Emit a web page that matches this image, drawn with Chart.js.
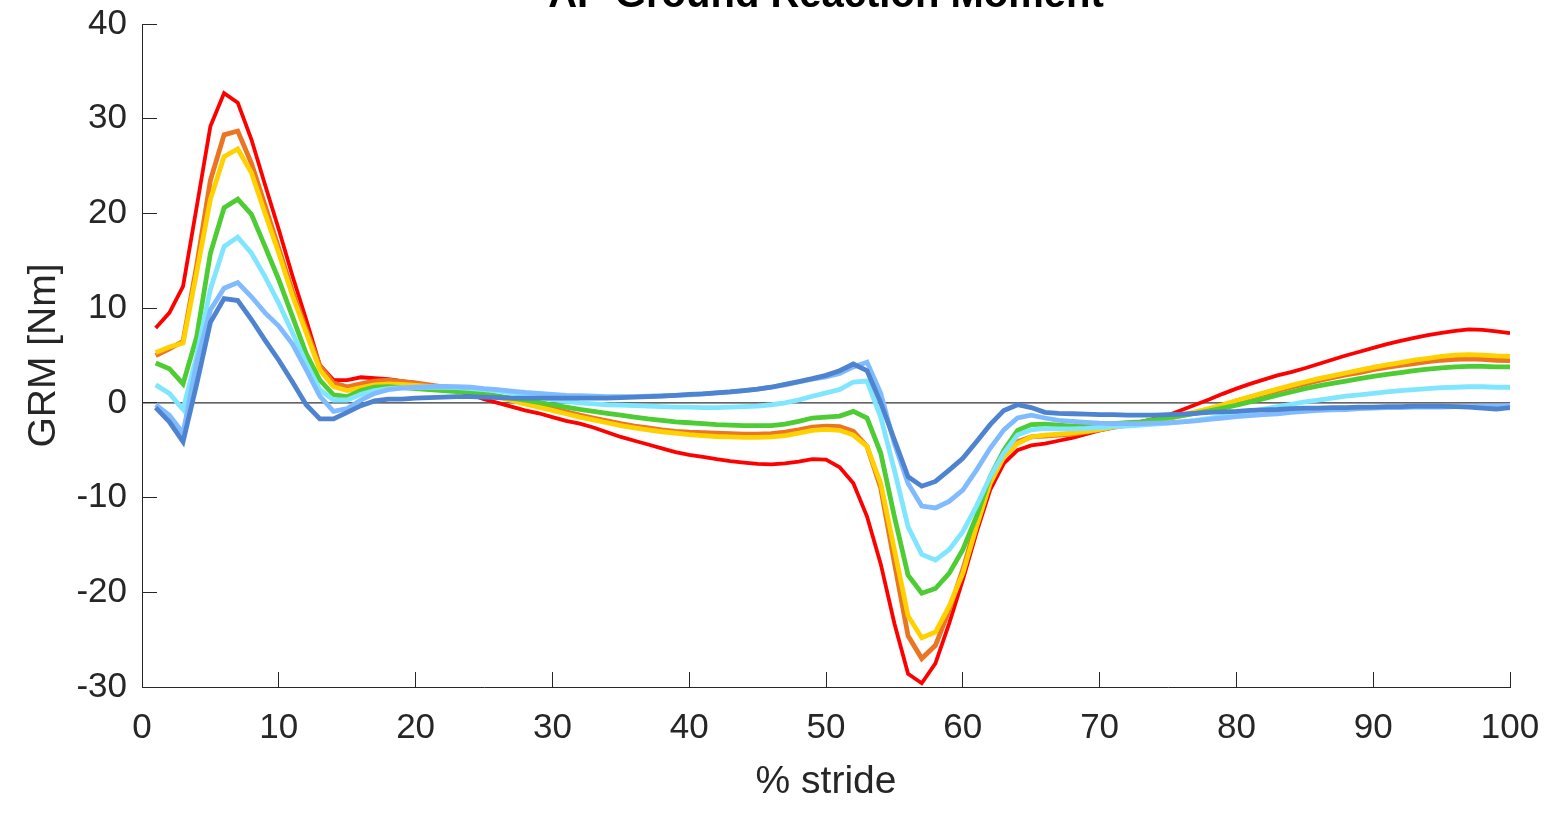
<!DOCTYPE html>
<html>
<head>
<meta charset="utf-8">
<title>AP Ground Reaction Moment</title>
<script src="https://cdn.jsdelivr.net/npm/chart.js@4.4.1/dist/chart.umd.min.js"></script>
<style>
  body { margin: 0; background: #fff; overflow: hidden; }
  #wrap { position: absolute; left: 0; top: -40px; width: 1553px; height: 854px; }
</style>
</head>
<body>
<div id="wrap"><canvas id="myChart"></canvas></div>
<script>
// % stride (x positions of every sample)
const stride = [1,2,3,4,5,6,7,8,9,10,11,12,13,14,15,16,17,18,19,20,
  21,22,23,24,25,26,27,28,29,30,31,32,33,34,35,36,37,38,39,40,
  41,42,43,44,45,46,47,48,49,50,51,52,53,54,55,56,57,58,59,60,
  61,62,63,64,65,66,67,68,69,70,71,72,73,74,75,76,77,78,79,80,
  81,82,83,84,85,86,87,88,89,90,91,92,93,94,95,96,97,98,99,100];

// GRM [Nm], one array per condition
const redVals = [7.9,9.5,12.3,20.7,29.2,32.7,31.7,27.8,23.0,18.3,
  13.4,8.8,4.0,2.4,2.4,2.7,2.6,2.5,2.3,2.1,
  1.8,1.6,1.3,0.9,0.4,0.0,-0.4,-0.8,-1.1,-1.5,
  -1.9,-2.2,-2.6,-3.1,-3.6,-4.0,-4.4,-4.8,-5.2,-5.5,
  -5.7,-5.95,-6.15,-6.3,-6.45,-6.5,-6.4,-6.2,-5.95,-6.0,
  -6.8,-8.5,-12.0,-17.0,-23.3,-28.6,-29.6,-27.5,-23.3,-18.7,
  -13.7,-9.2,-6.4,-5.0,-4.5,-4.3,-4.0,-3.7,-3.3,-2.9,
  -2.6,-2.3,-2.0,-1.7,-1.3,-0.75,-0.2,0.35,0.95,1.5,
  2.0,2.45,2.9,3.25,3.65,4.1,4.55,5.0,5.4,5.8,
  6.2,6.55,6.85,7.15,7.4,7.6,7.75,7.7,7.55,7.35];

const orangeVals = [5.0,5.7,6.5,14.5,23.5,28.3,28.7,25.3,20.8,16.3,
  11.8,7.8,3.9,2.1,1.7,2.0,2.3,2.4,2.25,2.1,
  1.9,1.7,1.55,1.3,1.0,0.7,0.4,0.1,-0.2,-0.6,
  -0.95,-1.3,-1.6,-1.9,-2.2,-2.45,-2.65,-2.85,-3.0,-3.1,
  -3.15,-3.2,-3.25,-3.3,-3.3,-3.25,-3.1,-2.85,-2.55,-2.45,
  -2.5,-3.0,-4.6,-9.0,-16.9,-24.6,-27.0,-25.6,-21.9,-17.6,
  -12.7,-8.1,-5.3,-4.1,-3.6,-3.5,-3.4,-3.3,-3.1,-2.85,
  -2.6,-2.35,-2.1,-1.9,-1.65,-1.35,-1.05,-0.7,-0.35,0.2,
  0.6,0.95,1.3,1.65,2.0,2.35,2.65,2.95,3.2,3.5,
  3.75,3.95,4.15,4.35,4.5,4.6,4.65,4.6,4.5,4.45];

const yellowVals = [5.3,5.9,6.3,13.8,21.5,26.0,26.8,24.3,20.0,15.8,
  11.3,7.4,3.5,1.7,1.3,1.6,1.9,2.0,1.95,1.85,
  1.75,1.6,1.45,1.2,0.9,0.6,0.25,-0.1,-0.45,-0.8,
  -1.15,-1.5,-1.8,-2.1,-2.4,-2.65,-2.85,-3.05,-3.2,-3.35,
  -3.45,-3.55,-3.6,-3.65,-3.65,-3.6,-3.45,-3.2,-2.9,-2.8,
  -2.9,-3.4,-4.6,-8.5,-15.5,-22.5,-24.8,-24.2,-21.5,-18.0,
  -13.1,-8.5,-5.7,-4.3,-3.6,-3.4,-3.3,-3.2,-3.0,-2.8,
  -2.55,-2.35,-2.1,-1.85,-1.6,-1.3,-0.95,-0.6,-0.2,0.25,
  0.65,1.05,1.45,1.85,2.2,2.55,2.85,3.15,3.45,3.75,
  4.0,4.25,4.5,4.7,4.9,5.05,5.1,5.05,4.95,4.9];

const greenVals = [4.2,3.6,2.0,7.0,15.8,20.6,21.5,19.9,16.5,13.0,
  9.1,5.2,2.4,0.85,0.65,1.3,1.65,1.7,1.6,1.5,
  1.4,1.3,1.2,1.1,0.9,0.7,0.5,0.3,0.05,-0.2,
  -0.45,-0.7,-0.9,-1.1,-1.3,-1.5,-1.7,-1.85,-2.0,-2.1,
  -2.2,-2.3,-2.35,-2.4,-2.4,-2.4,-2.25,-1.95,-1.6,-1.5,
  -1.4,-0.9,-1.6,-5.3,-12.0,-18.2,-20.1,-19.6,-18.0,-15.5,
  -12.0,-7.8,-5.0,-2.9,-2.3,-2.25,-2.35,-2.45,-2.4,-2.3,
  -2.2,-2.1,-2.0,-1.8,-1.55,-1.35,-1.1,-0.85,-0.55,-0.25,
  0.1,0.45,0.8,1.15,1.5,1.8,2.05,2.3,2.55,2.8,
  3.0,3.2,3.4,3.55,3.7,3.8,3.85,3.85,3.8,3.8];

const cyanVals = [1.9,1.0,-0.7,5.0,12.0,16.5,17.5,15.8,13.3,10.5,
  7.4,4.2,1.4,0.3,0.3,0.9,1.3,1.5,1.6,1.65,
  1.65,1.65,1.6,1.5,1.4,1.25,1.05,0.85,0.6,0.35,
  0.15,0.0,-0.1,-0.2,-0.25,-0.3,-0.35,-0.4,-0.45,-0.45,
  -0.5,-0.5,-0.45,-0.4,-0.35,-0.2,0.0,0.3,0.7,1.05,
  1.4,2.2,2.3,-1.5,-7.1,-13.1,-16.0,-16.6,-15.5,-13.6,
  -10.9,-7.8,-5.3,-3.4,-2.85,-2.7,-2.75,-2.75,-2.7,-2.6,
  -2.5,-2.45,-2.35,-2.25,-2.15,-2.0,-1.85,-1.65,-1.4,-1.15,
  -0.9,-0.65,-0.4,-0.15,0.1,0.3,0.5,0.7,0.85,1.0,
  1.15,1.3,1.4,1.5,1.6,1.65,1.7,1.7,1.65,1.65];

const lightBlueVals = [-0.2,-1.3,-3.2,4.3,9.8,12.1,12.7,11.2,9.5,8.1,
  6.2,3.5,0.7,-0.9,-0.6,0.3,1.0,1.4,1.55,1.65,
  1.7,1.75,1.7,1.65,1.5,1.4,1.25,1.1,1.0,0.9,
  0.8,0.75,0.7,0.65,0.65,0.65,0.7,0.75,0.8,0.85,
  0.95,1.05,1.15,1.3,1.45,1.65,1.9,2.2,2.5,2.75,
  3.1,3.8,4.3,1.0,-4.3,-8.5,-10.9,-11.1,-10.4,-9.2,
  -7.1,-4.8,-2.85,-1.6,-1.3,-1.6,-1.85,-1.95,-2.05,-2.15,
  -2.2,-2.2,-2.2,-2.15,-2.1,-2.0,-1.9,-1.75,-1.6,-1.45,
  -1.35,-1.25,-1.15,-1.0,-0.9,-0.8,-0.75,-0.7,-0.6,-0.55,
  -0.5,-0.5,-0.45,-0.45,-0.45,-0.4,-0.4,-0.35,-0.35,-0.3];

const blueVals = [-0.5,-2.0,-4.1,2.0,8.5,11.0,10.8,8.8,6.6,4.5,
  2.2,-0.2,-1.7,-1.7,-1.0,-0.3,0.2,0.4,0.4,0.5,
  0.55,0.6,0.65,0.65,0.6,0.55,0.5,0.5,0.5,0.5,
  0.5,0.5,0.5,0.5,0.55,0.6,0.65,0.7,0.8,0.9,
  0.95,1.05,1.15,1.3,1.45,1.65,1.95,2.25,2.55,2.9,
  3.4,4.1,3.4,0.0,-3.9,-7.8,-8.8,-8.3,-7.1,-5.85,
  -4.1,-2.3,-0.8,-0.2,-0.5,-1.0,-1.1,-1.15,-1.2,-1.25,
  -1.25,-1.3,-1.3,-1.3,-1.25,-1.2,-1.1,-1.0,-0.95,-0.9,
  -0.8,-0.75,-0.7,-0.6,-0.55,-0.55,-0.5,-0.5,-0.45,-0.45,
  -0.4,-0.4,-0.35,-0.35,-0.35,-0.4,-0.45,-0.55,-0.65,-0.5];

// reference line at zero
const zeroX = [0, 100];
const zeroY = [0, 0];

const seriesList = [redVals, orangeVals, yellowVals, greenVals, cyanVals, lightBlueVals, blueVals];
const seriesColors = ['#FF0000', '#EB7522', '#FFD100', '#4DCC33', '#80E5FF', '#80BAFF', '#4E83CF'];
const seriesWidths = [3.8, 4.8, 4.8, 4.8, 4.8, 4.8, 4.8];

const titleText = 'AP Ground Reaction Moment';
const axisColor = '#262626';
const fontFam = '"Liberation Sans", Arial, Helvetica, sans-serif';

let datasets = seriesList.map((vals, i) => ({
  data: vals.map((v, k) => ({ x: stride[k], y: v })),
  borderColor: seriesColors[i],
  borderWidth: seriesWidths[i],
  pointRadius: 0,
  fill: false,
  tension: 0,
  order: seriesList.length - 1 - i
}));

datasets.push({
  data: zeroX.map((v, k) => ({ x: v, y: zeroY[k] })),
  borderColor: '#333333',
  borderWidth: 1.2,
  pointRadius: 0,
  fill: false,
  order: 20
});

// title centred over the plot area (like the matlab figure), mostly cut off at the top
const axesTitle = {
  id: 'axesTitle',
  afterDraw(chart) {
    const c = chart.ctx;
    const area = chart.chartArea;
    c.save();
    c.fillStyle = '#000000';
    c.font = 'bold 40px ' + fontFam;
    c.textAlign = 'center';
    c.textBaseline = 'alphabetic';
    c.fillText(titleText, (area.left + area.right) / 2, area.top - 17);
    c.restore();
  }
};

const ctx = document.getElementById('myChart');

new Chart(ctx, {
  type: 'line',
  data: { datasets: datasets },
  plugins: [axesTitle],
  options: {
    responsive: true,
    maintainAspectRatio: false,
    animation: false,
    events: [],
    layout: { padding: { left: 0, right: 43, top: 64, bottom: 0 } },
    plugins: {
      legend: { display: false },
      tooltip: { enabled: false },
      title: { display: false }
    },
    scales: {
      x: {
        type: 'linear',
        min: 0,
        max: 100,
        ticks: {
          stepSize: 10,
          color: axisColor,
          padding: 35,
          maxRotation: 0,
          font: { family: fontFam, size: 35 }
        },
        grid: { drawOnChartArea: false, tickLength: -15, color: axisColor },
        border: { color: axisColor, width: 1 },
        title: {
          display: true,
          text: '% stride',
          color: axisColor,
          font: { family: fontFam, size: 39 },
          padding: { top: 0, bottom: 8.6 }
        },
        afterFit: (scale) => {
          scale.height = 127;
          scale.paddingLeft = 0;
          scale.paddingRight = 0;
        }
      },
      y: {
        min: -30,
        max: 40,
        ticks: {
          stepSize: 10,
          color: axisColor,
          padding: 30,
          font: { family: fontFam, size: 35 }
        },
        grid: { drawOnChartArea: false, tickLength: -15, color: axisColor },
        border: { color: axisColor, width: 1 },
        title: {
          display: true,
          text: 'GRM [Nm]',
          color: axisColor,
          font: { family: fontFam, size: 39 },
          padding: { top: 21, bottom: 0 }
        },
        afterFit: (scale) => {
          scale.width = 142;
          scale.paddingTop = 0;
          scale.paddingBottom = 0;
        }
      }
    }
  }
});
</script>
</body>
</html>
